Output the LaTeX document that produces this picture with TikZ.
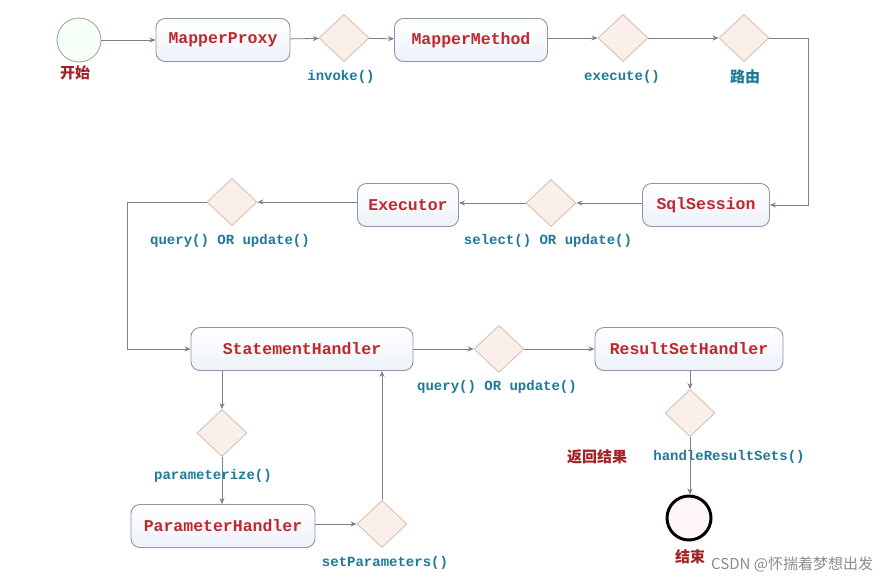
\documentclass[tikz,border=0pt]{standalone}
\usepackage{fontspec}
\setmonofont{Liberation Mono}
\newfontfamily\cjk{Noto Sans CJK SC}
\usetikzlibrary{shapes.geometric,arrows.meta}
\definecolor{boxred}{HTML}{C0282D}
\definecolor{lbl}{HTML}{1F7A99}
\definecolor{boxline}{HTML}{8A97A8}
\definecolor{boxfill}{HTML}{EDF2FA}
\definecolor{dfill}{HTML}{FBF0E9}
\definecolor{dline}{HTML}{D6C2B4}
\definecolor{conn}{HTML}{7F7F7F}
\tikzset{
  box/.style={draw=boxline, line width=0.9pt, rounded corners=9pt, top color=white, bottom color=boxfill,
    text=boxred, font=\ttfamily\bfseries\fontsize{16.5}{18}\selectfont, inner sep=0pt, minimum height=43pt},
  dia/.style={diamond, draw=dline, fill=dfill, line width=0.9pt, inner sep=0pt, minimum width=50pt, minimum height=47pt},
  lab/.style={text=lbl, font=\ttfamily\bfseries\fontsize{14}{16}\selectfont, inner sep=0pt},
  cn/.style={text=boxred!85!black, font=\cjk\bfseries\fontsize{15}{17}\selectfont, inner sep=0pt},
  conn/.style={draw=conn, line width=0.8pt, -{Stealth[length=6pt,width=5pt]}},
}
\begin{document}
\begin{tikzpicture}[x=1pt,y=-1pt]
\useasboundingbox[fill=white] (0,0) rectangle (896,584);
% row 1
\node[circle, draw=black!35, fill=green!4!white, line width=0.9pt, minimum size=44pt, inner sep=0pt] (start) at (79,40) {};
\node[cn] (startl) at (75,73) {开始};
\node[box, minimum width=134pt] (mp) at (223,40) {MapperProxy};
\node[dia] (d1) at (344,38) {};
\node[lab] (l1) at (341,77) {invoke()};
\node[box, minimum width=153pt] (mm) at (471,40) {MapperMethod};
\node[dia] (d2) at (623,38) {};
\node[lab] (l2) at (622,77) {execute()};
\node[dia] (d3) at (744,38) {};
\node[cn, text=lbl] (l3) at (745,77) {路由};
% row 2
\node[box, minimum width=127pt] (sql) at (706,205) {SqlSession};
\node[dia] (d4) at (551,203) {};
\node[lab] (l4) at (548,241) {select() OR update()};
\node[box, minimum width=101pt] (ex) at (408,205) {Executor};
\node[dia] (d5) at (232,202) {};
\node[lab] (l5) at (230,241) {query() OR update()};
% row 3
\node[box, minimum width=222pt] (sh) at (302,349) {StatementHandler};
\node[dia] (d6) at (499,349) {};
\node[lab] (l6) at (497,387) {query() OR update()};
\node[box, minimum width=188pt] (rs) at (689,349) {ResultSetHandler};
% lower left
\node[dia] (d7) at (222,433) {};
\node[lab] (l7) at (213,476) {parameterize()};
\node[box, minimum width=184pt] (ph) at (223,526) {ParameterHandler};
\node[dia] (d8) at (382,524) {};
\node[lab] (l8) at (385,563) {setParameters()};
% lower right
\node[dia] (d9) at (690,413) {};
\node[cn] (l9a) at (597,457) {返回结果};
\node[lab] (l9) at (729,457) {handleResultSets()};
\node[circle, draw=black, fill=red!3!white, line width=3pt, minimum size=44pt, inner sep=0pt] (end) at (689,518) {};
\node[cn] (endl) at (690,557) {结束};
\node[text=black!45, font=\cjk\fontsize{15}{17}\selectfont, inner sep=0pt, anchor=west] (wm) at (711,564) {CSDN @怀揣着梦想出发};
% corners
\coordinate (c1) at (808,38);
\coordinate (c2) at (127,202);
% connectors
\draw[conn] (start) -- (mp);
\draw[conn] (mp) -- (d1);
\draw[conn] (d1) -- (mm);
\draw[conn] (mm.east |- d2.west) -- (d2.west);
\draw[conn] (d2) -- (d3);
\draw[conn] (d3.east) -- (c1) |- (sql.east);
\draw[conn] (sql.west |- d4.east) -- (d4.east);
\draw[conn] (d4.west) -- (ex.east |- d4.west);
\draw[conn] (ex.west |- d5.east) -- (d5.east);
\draw[conn] (d5.west) -- (c2) |- (sh.west);
\draw[conn] (sh) -- (d6);
\draw[conn] (d6) -- (rs);
\draw[conn] (d7.north |- sh.south) -- (d7.north);
\draw[conn] (d7.south) -- (ph.north -| d7.south);
\draw[conn] (ph.east |- d8.west) -- (d8.west);
\draw[conn] (d8.north) -- (d8.north |- sh.south);
\draw[conn] (rs.south -| d9.north) -- (d9.north);
\draw[conn] (d9.south) -- (end.north -| d9.south);
\end{tikzpicture}
\end{document}
